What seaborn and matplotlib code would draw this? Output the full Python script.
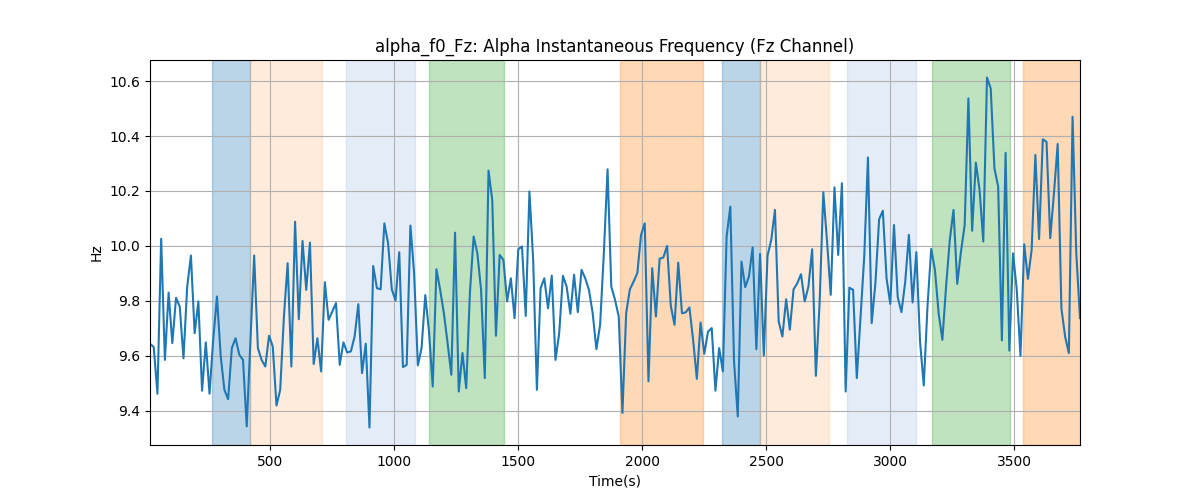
import numpy as np
import pandas as pd
import matplotlib
matplotlib.use("Agg")
import matplotlib.pyplot as plt
import seaborn as sns

t_start = 15
t_step = 15
freq_hz = [
    9.644, 9.632, 9.462, 10.026, 9.585, 9.830, 9.646, 9.811, 9.779, 9.591,
    9.852, 9.965, 9.682, 9.798, 9.473, 9.649, 9.462, 9.660, 9.816, 9.600,
    9.476, 9.442, 9.628, 9.664, 9.604, 9.585, 9.343, 9.650, 9.965, 9.628,
    9.585, 9.561, 9.673, 9.634, 9.419, 9.476, 9.743, 9.937, 9.561, 10.088,
    9.733, 10.018, 9.840, 10.012, 9.570, 9.664, 9.543, 9.868, 9.731, 9.761,
    9.792, 9.567, 9.649, 9.612, 9.616, 9.670, 9.788, 9.537, 9.644, 9.339,
    9.927, 9.846, 9.842, 10.082, 10.010, 9.842, 9.801, 9.977, 9.559, 9.567,
    10.074, 9.901, 9.565, 9.628, 9.821, 9.688, 9.488, 9.915, 9.840, 9.755,
    9.646, 9.531, 10.048, 9.470, 9.610, 9.482, 9.830, 10.034, 9.973, 9.840,
    9.519, 10.274, 10.167, 9.673, 9.967, 9.949, 9.798, 9.882, 9.737, 9.988,
    9.998, 9.745, 10.198, 9.949, 9.476, 9.846, 9.882, 9.773, 9.892, 9.585,
    9.682, 9.891, 9.852, 9.753, 9.895, 9.759, 9.913, 9.882, 9.840, 9.755,
    9.624, 9.713, 9.973, 10.279, 9.852, 9.804, 9.743, 9.392, 9.755, 9.842,
    9.870, 9.901, 10.040, 10.082, 9.507, 9.919, 9.743, 9.953, 9.958, 10.000,
    9.782, 9.713, 9.939, 9.755, 9.758, 9.776, 9.658, 9.516, 9.721, 9.607,
    9.688, 9.701, 9.473, 9.628, 9.543, 10.034, 10.143, 9.579, 9.379, 9.943,
    9.850, 9.888, 9.995, 9.624, 9.971, 9.601, 9.964, 10.022, 10.131, 9.725,
    9.670, 9.806, 9.695, 9.842, 9.864, 9.897, 9.798, 9.852, 9.988, 9.527,
    9.792, 10.195, 10.016, 9.822, 10.213, 9.967, 10.228, 9.470, 9.848, 9.840,
    9.519, 9.743, 9.961, 10.322, 9.719, 9.864, 10.097, 10.128, 9.882, 9.789,
    10.076, 9.813, 9.759, 9.867, 10.040, 9.794, 9.977, 9.652, 9.492, 9.779,
    9.989, 9.913, 9.755, 9.658, 9.852, 10.022, 10.131, 9.862, 9.979, 10.076,
    10.537, 10.055, 10.303, 10.204, 10.016, 10.613, 10.573, 10.282, 10.216, 9.656,
    10.339, 9.619, 9.973, 9.840, 9.600, 10.006, 9.880, 9.985, 10.331, 10.025,
    10.388, 10.379, 10.028, 10.191, 10.371, 9.773, 9.670, 9.610, 10.470, 9.973,
    9.737,
]
time_s = [t_start + t_step * i for i in range(len(freq_hz))]

span_starts = [266, 419, 806, 1141, 1911, 2323, 2476, 2827, 3169, 3536]
span_ends = [419, 710, 1085, 1444, 2246, 2476, 2754, 3105, 3484, 3800]
span_colors = ["#1f77b4", "#ff7f0e", "#aec7e8", "#2ca02c", "#ff7f0e",
               "#1f77b4", "#ff7f0e", "#aec7e8", "#2ca02c", "#ff7f0e"]
span_alphas = [0.3, 0.15, 0.33, 0.3, 0.3, 0.3, 0.15, 0.33, 0.3, 0.3]

df = pd.DataFrame({"Time(s)": time_s, "Hz": freq_hz})

fig, ax = plt.subplots(figsize=(12, 5), dpi=100)
for s, e, c, a in zip(span_starts, span_ends, span_colors, span_alphas):
    ax.axvspan(s, e, color=c, alpha=a)
sns.lineplot(data=df, x="Time(s)", y="Hz", ax=ax, color="#1f77b4", linewidth=1.5)
ax.set_xlim(time_s[0], time_s[-1])
ax.grid(True)
ax.set_title("alpha_f0_Fz: Alpha Instantaneous Frequency (Fz Channel)")
ax.set_xlabel("Time(s)")
ax.set_ylabel("Hz")
fig.savefig("out.png", dpi=100)
